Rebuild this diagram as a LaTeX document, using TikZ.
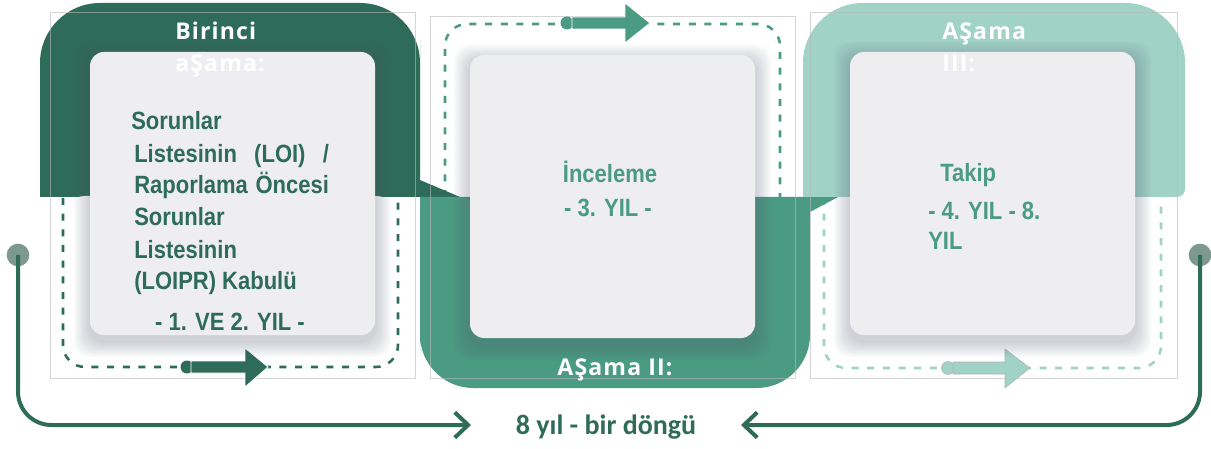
\documentclass[tikz,border=0pt]{standalone}
\usepackage{fontspec}
\usetikzlibrary{arrows.meta}
\setmainfont{Liberation Sans}
\newfontfamily\bodyfont[FakeStretch=0.88]{Liberation Sans}
\newfontfamily\titlefont[LetterSpace=5]{Open Sans}
\newfontfamily\cyclefont{Carlito}

\definecolor{darkg}{HTML}{2E6B58}
\definecolor{midg}{HTML}{4A9B82}
\definecolor{lightg}{HTML}{A0D2C5}
\definecolor{cardc}{HTML}{EEEEF1}
\definecolor{shadec}{HTML}{4E5870}
\definecolor{dotg}{HTML}{7D998F}

% soft shadow behind a card: corners (x1,y1) and (x2,y2)
\newcommand\cardshadow[4]{%
  \foreach \s in {2,4,...,16}{%
    \fill[shadec,opacity=0.035,rounded corners=12pt]
      (#1-\s,#2-\s+6) rectangle (#3+\s,#4+\s+6);}}

\begin{document}
\begin{tikzpicture}[x=0.75pt,y=-0.75pt,
  card/.style={fill=cardc, rounded corners=10.5pt, minimum width=213.75pt,
    minimum height=212.25pt, inner sep=0pt},
  body/.style={font=\bodyfont\bfseries\fontsize{18.75pt}{24pt}\selectfont,
    inner sep=0pt, anchor=base west},
  title/.style={font=\titlefont\bfseries\fontsize{17.3pt}{20pt}\selectfont,
    text=white, inner sep=0pt, anchor=base west},
  dashline/.style={line width=1.9pt, dash pattern=on 5.25pt off 6.5pt},
  framebox/.style={draw=gray!55, line width=0.5pt, opacity=0.6},
  loopline/.style={draw=darkg, line width=3pt, rounded corners=25pt,
    -{Straight Barb[length=10pt,width=19pt]}},
  dot/.style={circle, fill=dotg, minimum size=17pt, inner sep=0pt}]

\useasboundingbox (0,0) rectangle (1211,449);

% stage II dashed area (above its band)
\fill[white, rounded corners=16.5pt] (445,197) -- (445,24) -- (780,24) -- (780,197) -- cycle;
\draw[dashline, midg, rounded corners=16.5pt] (445,197) -- (445,24) -- (780,24) -- (780,197);

% stage I band
\fill[darkg] (40,197) -- (40,100) [rounded corners=45pt] -- (40,3) -- (420,3)
  -- (420,100) [sharp corners] -- (420,180) -- (460,197) -- cycle;

% stage I and III dashed areas
\fill[white, rounded corners=16.5pt] (63,196) -- (63,367) -- (398,367) -- (398,196) -- cycle;
\draw[dashline, darkg, rounded corners=16.5pt] (63,198) -- (63,367) -- (398,367) -- (398,198);
\fill[white, rounded corners=16.5pt] (824,196) -- (824,368) -- (1161,368) -- (1161,196) -- cycle;
\draw[dashline, lightg, rounded corners=16.5pt] (824,198) -- (824,368) -- (1161,368) -- (1161,198);

% stage II band
\fill[midg] (420,197) -- (838,197) -- (810,212) -- (810,300) [rounded corners=40pt]
  -- (810,388) -- (420,388) -- (420,300) [sharp corners] -- cycle;

% stage III band
\fill[lightg] (803,197) -- (803,100) [rounded corners=45pt] -- (803,3) -- (1185,3)
  -- (1185,100) [rounded corners=6pt] -- (1185,197) [sharp corners] -- cycle;

% thin layout frames
\draw[framebox] (50,12) rectangle (415,378);
\draw[framebox] (430,16) rectangle (795,378);
\draw[framebox] (810,12) rectangle (1177,378);

% flow arrows on the dashed outlines
\fill[darkg] (187,367) circle[radius=6.5];
\filldraw[fill=darkg, draw=white, line width=0.6pt]
  (191,361) -- (245,361) -- (245,348) -- (268,367) -- (245,387) -- (245,373) -- (191,373) -- cycle;
\fill[midg] (567,23) circle[radius=6.5];
\filldraw[fill=midg, draw=white, line width=0.6pt]
  (572,17) -- (625,17) -- (625,3) -- (650,23) -- (625,43) -- (625,29) -- (572,29) -- cycle;
\filldraw[fill=lightg, draw=gray!60, line width=0.4pt] (948,368) circle[radius=6.5];
\filldraw[fill=lightg, draw=gray!60, line width=0.4pt]
  (953,362) -- (1005,362) -- (1005,349) -- (1030,368) -- (1005,388) -- (1005,374) -- (953,374) -- cycle;

% cards
\cardshadow{90}{52}{375}{335}
\cardshadow{470}{55}{755}{338}
\cardshadow{850}{52}{1135}{335}
\node[card] (c1) at (232.5,193.5) {};
\node[card] (c2) at (612.5,196.5) {};
\node[card] (c3) at (992.5,193.5) {};

% stage titles
\node[title] (h1a) at (175,40) {Birinci};
\node[title] (h1b) at (175,72) {aŞama:};
\node[title, anchor=base] (h2) at (615,375) {AŞama II:};
\node[title] (h3a) at (942,40) {AŞama};
\node[title] (h3b) at (942,72) {III:};

% stage I text
\begin{scope}[every node/.append style={body, text=darkg}]
  \node (s1) at (131,130) {Sorunlar};
  \node (s2) at (134,163) {\makebox[146pt][s]{Listesinin (LOI) /}};
  \node (s3) at (134,194) {\makebox[146pt][s]{Raporlama Öncesi}};
  \node (s4) at (134,226) {Sorunlar};
  \node (s5) at (134,258) {Listesinin};
  \node (s6) at (134,290) {(LOIPR) Kabulü};
  \node[anchor=base] (s7) at (230,330) {- 1. VE 2. YIL -};
\end{scope}

% stage II text
\node[body, text=midg, anchor=base] (r1) at (610,183) {İnceleme};
\node[body, text=midg, anchor=base] (r2) at (608,217) {- 3. YIL -};

% stage III text
\node[body, text=midg] (f1) at (940,182) {Takip};
\node[body, text=midg] (f2) at (928,220) {- 4. YIL - 8.};
\node[body, text=midg] (f3) at (928,250) {YIL};

% cycle loop
\node[font=\cyclefont\bfseries\fontsize{21pt}{24pt}\selectfont, text=darkg,
  anchor=base, inner sep=0pt] (cyc) at (606,434) {8 yıl - bir döngü};
\node[dot] (dl) at (18,255) {};
\node[dot] (dr) at (1200,255) {};
\coordinate (la) at (471,425);
\coordinate (ra) at (741,425);
\draw[loopline] (dl.center) |- (la);
\draw[loopline] (dr.center) |- (ra);

\end{tikzpicture}
\end{document}
